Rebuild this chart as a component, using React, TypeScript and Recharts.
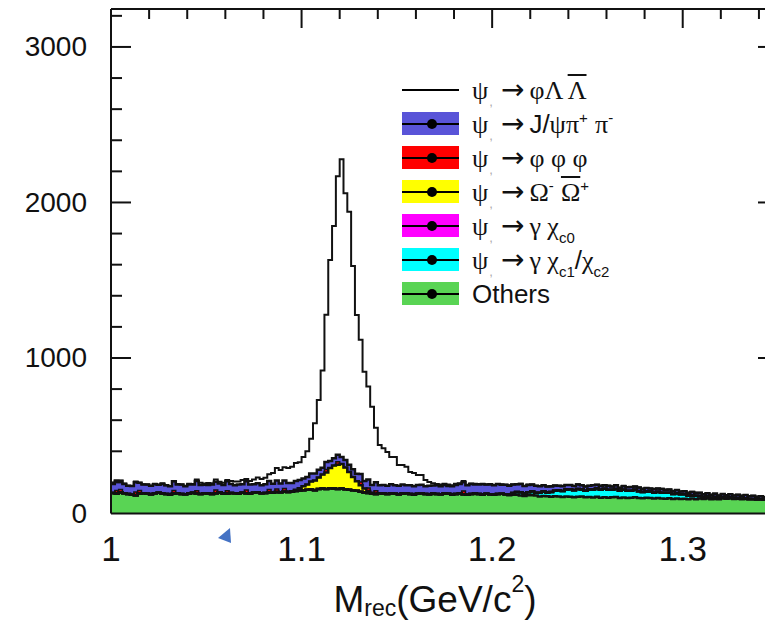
import React from 'react';
import { ComposedChart, Area, Line, XAxis, YAxis } from 'recharts';

// histogram binning (GeV/c^2)
const BIN_START = 1.0;
const BIN_WIDTH = 0.002;

// Others (green)
const others = [
  132, 128, 135, 130, 126, 120, 118, 128, 131, 127, 124, 130, 133, 129, 125, 122, 128, 131, 126, 124, 129, 133, 127, 125, 130,
  128, 126, 131, 135, 129, 127, 132, 130, 128, 134, 131, 127, 133, 136, 130, 132, 135, 133, 138, 136, 140, 138, 142, 145, 148,
  150, 152, 155, 150, 157, 160, 158, 162, 160, 158, 160, 156, 152, 150, 146, 140, 135, 132, 128, 126, 130, 128, 125, 131, 127,
  124, 128, 130, 126, 122, 127, 131, 125, 123, 128, 126, 124, 129, 127, 122, 125, 128, 124, 121, 126, 129, 125, 122, 127, 124,
  121, 125, 127, 123, 118, 120, 120, 115, 113, 117, 117, 115, 110, 112, 111, 107, 111, 109, 106, 110, 108, 105, 107, 109, 104,
  106, 103, 107, 102, 105, 101, 104, 106, 100, 103, 99, 102, 105, 100, 98, 102, 99, 96, 100, 97, 95, 98, 94, 96, 93,
  95, 92, 96, 92, 96, 94, 96, 92, 94, 91, 97, 95, 96, 94, 95, 92, 93, 91, 92, 90, 91, 88, 87, 88, 85,
];

// psi' -> gamma chi_c1 / chi_c2 (cyan)
const chiC12 = [
  0, 0, 0, 0, 0, 0, 0, 0, 0, 0, 0, 0, 0, 0, 0, 0, 0, 0, 0, 0, 0, 0, 0, 0, 0,
  0, 0, 0, 0, 0, 0, 0, 0, 0, 0, 0, 0, 0, 0, 0, 0, 0, 0, 0, 0, 0, 0, 0, 0, 0,
  0, 0, 0, 0, 0, 0, 0, 0, 0, 0, 0, 0, 0, 0, 0, 0, 0, 0, 0, 0, 0, 0, 0, 0, 0,
  0, 0, 0, 0, 0, 0, 0, 0, 0, 0, 0, 0, 0, 0, 0, 0, 0, 0, 0, 0, 0, 0, 0, 0, 0,
  0, 0, 0, 0, 5, 12, 18, 22, 16, 20, 26, 18, 24, 30, 24, 32, 36, 40, 38, 44, 48, 45, 50, 46, 43,
  48, 52, 55, 50, 54, 51, 48, 52, 46, 50, 47, 44, 48, 43, 40, 40, 42, 38, 40, 36, 38, 35, 32, 34, 30,
  28, 24, 20, 22, 16, 12, 14, 10, 12, 8, 9, 6, 7, 4, 5, 3, 4, 2, 2, 1, 1, 0, 0, 0, 0,
];

// psi' -> gamma chi_c0 (magenta)
const chiC0 = [
  0, 0, 0, 0, 0, 0, 0, 0, 0, 0, 0, 0, 0, 0, 0, 0, 0, 0, 0, 0, 0, 0, 0, 0, 0,
  0, 0, 0, 0, 0, 0, 0, 0, 0, 0, 0, 0, 0, 0, 0, 0, 0, 0, 0, 0, 0, 0, 0, 0, 0,
  0, 0, 0, 0, 0, 0, 0, 0, 0, 0, 0, 0, 0, 0, 0, 0, 0, 0, 0, 0, 0, 0, 0, 0, 0,
  0, 0, 0, 0, 0, 0, 0, 0, 0, 0, 0, 0, 0, 0, 0, 0, 0, 0, 0, 0, 0, 0, 0, 0, 0,
  0, 0, 0, 0, 0, 0, 0, 0, 0, 0, 0, 0, 0, 0, 0, 0, 0, 0, 0, 0, 0, 0, 0, 0, 0,
  0, 0, 0, 0, 0, 0, 0, 0, 0, 0, 0, 0, 0, 0, 0, 0, 0, 0, 0, 0, 0, 0, 0, 0, 0,
  0, 0, 0, 0, 0, 0, 0, 0, 0, 0, 0, 0, 0, 0, 0, 0, 0, 0, 0, 0, 0, 0, 0, 0, 0,
];

// psi' -> Omega- anti-Omega+ (yellow)
const omega = [
  0, 0, 0, 0, 0, 0, 0, 0, 0, 0, 0, 0, 0, 0, 0, 0, 0, 0, 0, 0, 0, 0, 0, 0, 0,
  0, 0, 0, 0, 0, 0, 0, 0, 0, 0, 0, 0, 0, 0, 0, 0, 0, 0, 0, 0, 0, 0, 0, 8, 15,
  25, 35, 50, 62, 75, 90, 105, 130, 148, 155, 158, 140, 115, 85, 62, 42, 25, 12, 5, 0, 0, 0, 0, 0, 0,
  0, 0, 0, 0, 0, 0, 0, 0, 0, 0, 0, 0, 0, 0, 0, 0, 0, 0, 0, 0, 0, 0, 0, 0, 0,
  0, 0, 0, 0, 0, 0, 0, 0, 0, 0, 0, 0, 0, 0, 0, 0, 0, 0, 0, 0, 0, 0, 0, 0, 0,
  0, 0, 0, 0, 0, 0, 0, 0, 0, 0, 0, 0, 0, 0, 0, 0, 0, 0, 0, 0, 0, 0, 0, 0, 0,
  0, 0, 0, 0, 0, 0, 0, 0, 0, 0, 0, 0, 0, 0, 0, 0, 0, 0, 0, 0, 0, 0, 0, 0, 0,
];

// psi' -> phi phi phi (red)
const phiPhiPhi = [
  0, 20, 20, 0, 0, 0, 20, 20, 0, 0, 0, 0, 0, 0, 0, 0, 20, 0, 0, 0, 0, 0, 20, 0, 0,
  0, 0, 20, 0, 0, 20, 0, 0, 0, 0, 20, 0, 0, 0, 0, 0, 20, 0, 20, 0, 20, 0, 0, 0, 0,
  0, 0, 0, 0, 0, 0, 20, 0, 0, 20, 0, 0, 0, 0, 0, 20, 0, 20, 0, 20, 0, 0, 0, 0, 0,
  0, 0, 0, 0, 0, 0, 0, 0, 0, 0, 0, 0, 0, 0, 0, 0, 0, 20, 0, 0, 0, 0, 0, 0, 0,
  0, 0, 0, 0, 0, 0, 0, 0, 0, 0, 0, 0, 0, 0, 0, 0, 0, 0, 0, 0, 0, 0, 0, 0, 0,
  0, 0, 0, 0, 0, 0, 0, 0, 0, 0, 0, 0, 0, 0, 0, 0, 0, 0, 0, 0, 0, 0, 0, 0, 0,
  0, 0, 0, 0, 0, 0, 0, 0, 0, 0, 0, 0, 0, 0, 0, 0, 0, 0, 0, 0, 0, 0, 0, 0, 0,
];

// psi' -> J/psi pi+ pi- (blue)
const jpsiPiPi = [
  58, 62, 55, 60, 52, 57, 63, 50, 55, 60, 54, 58, 52, 61, 56, 53, 59, 55, 60, 52, 57, 54, 62, 58, 55,
  56, 60, 53, 58, 55, 61, 57, 52, 59, 54, 57, 60, 55, 58, 52, 56, 54, 59, 55, 57, 53, 58, 54, 56, 52,
  50, 48, 52, 46, 50, 44, 48, 45, 47, 44, 45, 48, 46, 50, 47, 52, 49, 54, 50, 55, 52, 56, 53, 57, 54,
  55, 58, 52, 56, 53, 57, 54, 50, 56, 52, 55, 51, 54, 50, 53, 58, 62, 57, 60, 64, 58, 62, 66, 60, 63,
  60, 64, 58, 62, 56, 55, 50, 52, 48, 47, 44, 46, 41, 40, 38, 35, 33, 30, 32, 29, 28, 27, 29, 26, 27,
  25, 27, 23, 26, 22, 25, 21, 24, 20, 23, 22, 25, 21, 24, 20, 22, 19, 23, 21, 24, 20, 22, 19, 21, 18,
  20, 18, 22, 19, 21, 17, 20, 18, 21, 16, 19, 17, 20, 18, 21, 19, 22, 18, 20, 17, 19, 18, 16, 18, 17,
];

// psi' -> phi Lambda anti-Lambda (signal, drawn as a line on top of the stack)
const phiLL = [
  0, 2, 0, 3, 0, 0, 4, 0, 2, 0, 0, 3, 0, 5, 0, 2, 0, 4, 0, 3, 6, 2, 10, 14, 8,
  12, 9, 15, 11, 13, 8, 20, 24, 18, 28, 14, 22, 30, 37, 40, 42, 43, 68, 79, 87, 84, 96, 104, 115, 115,
  138, 165, 223, 322, 448, 626, 947, 1293, 1494, 1791, 1915, 1715, 1628, 1307, 1022, 863, 703, 599, 504, 351, 258, 236, 217, 175, 182,
  133, 126, 118, 85, 85, 63, 62, 40, 23, 15, 9, 12, 8, 10, 6, 9, 5, 8, 4, 3, 5, 2, 4, 0, 3,
  2, 0, 3, 0, 2, 0, 0, 3, 0, 2, 0, 0, 2, 0, 0, 3, 0, 0, 2, 0, 0, 0, 2, 0, 0,
  0, 2, 0, 0, 0, 3, 0, 0, 0, 2, 0, 0, 0, 0, 2, 0, 0, 0, 0, 2, 0, 0, 0, 0, 0,
  0, 0, 2, 0, 0, 0, 0, 0, 2, 0, 0, 0, 0, 0, 0, 0, 0, 0, 0, 0, 0, 0, 0, 0, 0,
];

const xMajor = [1.0, 1.1, 1.2, 1.3];
const xLabels = ['1', '1.1', '1.2', '1.3'];
const xMinor = [1.02, 1.04, 1.06, 1.08, 1.12, 1.14, 1.16, 1.18, 1.22, 1.24, 1.26, 1.28, 1.32, 1.34];
const yMajor = [0, 1000, 2000, 3000];
const yLabels = ['0', '1000', '2000', '3000'];
const yMinor = [200, 400, 600, 800, 1200, 1400, 1600, 1800, 2200, 2400, 2600, 2800, 3200];

const SERIES = ['others', 'chiC12', 'chiC0', 'omega', 'phiPhiPhi', 'jpsiPiPi'];
const COLORS: Record<string, string> = {
  others: '#59d454',
  chiC12: '#00ffff',
  chiC0: '#ff00ff',
  omega: '#ffff00',
  phiPhiPhi: '#ff0000',
  jpsiPiPi: '#5954d8',
};

const SANS = '"Liberation Sans", Arial, Helvetica, sans-serif';
const SERIF = '"Liberation Serif", "DejaVu Serif", serif';
const INK = '#111';

const CHART_W = 780;
const CHART_H = 612;
const MARGIN = { top: 0, right: 10, bottom: 0, left: 0 };
const Y_AXIS_W = 103;
const PLOT_W = CHART_W - MARGIN.left - MARGIN.right - Y_AXIS_W;

// one row per bin edge; the last edge repeats the last bin so the step closes.
// cum_* are the running tops of the stack, used to outline every component.
const rows = [];
for (let i = 0; i <= others.length; i++) {
  const k = Math.min(i, others.length - 1);
  const vals = [others[k], chiC12[k], chiC0[k], omega[k], phiPhiPhi[k], jpsiPiPi[k]];
  // eslint-disable-next-line @typescript-eslint/no-explicit-any
  const row: any = { x: +(BIN_START + i * BIN_WIDTH).toFixed(3) };
  let acc = 0;
  SERIES.forEach((key, j) => {
    row[key] = vals[j];
    acc += vals[j];
    row['cum_' + key] = acc;
  });
  row.total = acc + phiLL[k];
  rows.push(row);
}

const xTicks = [...xMajor, ...xMinor].sort((a, b) => a - b);
const yTicks = [...yMajor, ...yMinor].sort((a, b) => a - b);
const majorIndex = (list: number[], v: number) => list.findIndex((m) => Math.abs(m - v) < 1e-6);

// eslint-disable-next-line @typescript-eslint/no-explicit-any
const BottomTick = ({ x, y, payload }: any) => {
  const idx = majorIndex(xMajor, payload.value);
  if (idx < 0) return <g />;
  return (
    <text x={x} y={y + 35} textAnchor="middle" dominantBaseline="central" fontSize={35} fontFamily={SANS} fill={INK}>
      {xLabels[idx]}
    </text>
  );
};

// eslint-disable-next-line @typescript-eslint/no-explicit-any
const TopTick = ({ x, y, payload }: any) => {
  const len = majorIndex(xMajor, payload.value) >= 0 ? 19 : 10;
  return <line x1={x} x2={x} y1={y} y2={y + len} stroke={INK} strokeWidth={2} />;
};

// left ticks + labels, and the mirrored ticks on the right frame edge
// eslint-disable-next-line @typescript-eslint/no-explicit-any
const LeftTick = ({ x, y, payload }: any) => {
  const idx = majorIndex(yMajor, payload.value);
  const len = idx >= 0 ? 20 : 11;
  const xr = Number(x) + PLOT_W;
  return (
    <g>
      {payload.value > 0 && <line x1={x} x2={Number(x) + len} y1={y} y2={y} stroke={INK} strokeWidth={2} />}
      {payload.value > 0 && <line x1={xr} x2={xr - len} y1={y} y2={y} stroke={INK} strokeWidth={2} />}
      {idx >= 0 && (
        <text x={Number(x) - 24} y={y} textAnchor="end" dominantBaseline="central" fontSize={28} fontFamily={SANS} fill={INK}>
          {yLabels[idx]}
        </text>
      )}
    </g>
  );
};

const G = ({ children }: { children: React.ReactNode }) => (
  <span style={{ fontFamily: SERIF }}>{children}</span>
);
const Sup = ({ children }: { children: React.ReactNode }) => (
  <span style={{ fontSize: 15, position: 'relative', top: -10 }}>{children}</span>
);
const Sub = ({ children }: { children: React.ReactNode }) => (
  <span style={{ fontSize: 15, position: 'relative', top: 8 }}>{children}</span>
);
const Bar = ({ children }: { children: React.ReactNode }) => (
  <span style={{ textDecoration: 'overline', textDecorationThickness: 2 }}>{children}</span>
);
const Psi = () => (
  <>
    <G>ψ</G>
    <span style={{ fontSize: 13, color: '#aaa', position: 'relative', top: 7, marginLeft: 1 }}>,</span>
    <span style={{ fontFamily: '"DejaVu Sans", sans-serif', fontSize: 28, margin: '0 5px 0 8px' }}>→</span>
  </>
);

const legendRows = [
  { color: null, label: <><Psi /><G>φΛ <Bar>Λ</Bar></G></> },
  { color: COLORS.jpsiPiPi, label: <><Psi />J/<G>ψπ</G><Sup>+</Sup> <G>π</G><Sup>-</Sup></> },
  { color: COLORS.phiPhiPhi, label: <><Psi /><G>φ φ φ</G></> },
  { color: COLORS.omega, label: <><Psi /><G>Ω</G><Sup>-</Sup> <G><Bar>Ω</Bar></G><Sup>+</Sup></> },
  { color: COLORS.chiC0, label: <><Psi /><G>γ χ</G><Sub>c0</Sub></> },
  { color: COLORS.chiC12, label: <><Psi /><G>γ χ</G><Sub>c1</Sub>/<G>χ</G><Sub>c2</Sub></> },
  { color: COLORS.others, label: <>Others</> },
];

const LegendBox = () => (
  <div style={{ position: 'absolute', left: 394, top: 70, fontFamily: SANS, color: INK }}>
    {legendRows.map((row, i) => (
      <div key={i} style={{ position: 'absolute', top: i * 34, left: 0, width: 300, height: 24 }}>
        <div style={{ position: 'absolute', left: 0, top: 0, width: 57, height: 23, background: row.color || 'transparent' }}>
          <div style={{ position: 'absolute', left: 0, top: 10.5, width: 57, height: 2, background: '#000' }} />
          {row.color && (
            <div style={{ position: 'absolute', left: 25, top: 6.5, width: 10, height: 10, borderRadius: 5, background: '#000' }} />
          )}
        </div>
        <div style={{ position: 'absolute', left: 70, top: -2, fontSize: 26, lineHeight: '28px', whiteSpace: 'pre' }}>
          {row.label}
        </div>
      </div>
    ))}
  </div>
);

export default function App() {
  return (
    <div style={{ position: 'relative', width: 765, height: 613, overflow: 'hidden', background: '#fff' }}>
      <ComposedChart width={CHART_W} height={CHART_H} data={rows} margin={MARGIN}>
        <XAxis
          dataKey="x"
          type="number"
          domain={[1.0, 1.35]}
          allowDataOverflow
          ticks={xTicks}
          interval={0}
          height={106.5}
          tickSize={0}
          tickMargin={0}
          tickLine={false}
          axisLine={{ stroke: INK, strokeWidth: 2 }}
          tick={BottomTick}
          label={{
            position: 'insideBottom',
            content: () => (
              <text x={427} y={591} textAnchor="middle" dominantBaseline="central" fontSize={37} fontFamily={SANS} fill={INK}>
                M
                <tspan fontSize={23} dy={9}>rec</tspan>
                <tspan dy={-9}>(GeV/c</tspan>
                <tspan fontSize={23} dy={-15}>2</tspan>
                <tspan dy={15}>)</tspan>
              </text>
            ),
          }}
        />
        <XAxis
          xAxisId="top"
          orientation="top"
          dataKey="x"
          type="number"
          domain={[1.0, 1.35]}
          allowDataOverflow
          ticks={xTicks}
          interval={0}
          height={1}
          tickSize={0}
          tickMargin={0}
          tickLine={false}
          axisLine={{ stroke: INK, strokeWidth: 2 }}
          tick={TopTick}
        />
        <YAxis
          type="number"
          domain={[0, 3244]}
          allowDataOverflow
          ticks={yTicks}
          interval={0}
          width={Y_AXIS_W}
          tickSize={0}
          tickMargin={0}
          tickLine={false}
          axisLine={{ stroke: INK, strokeWidth: 2 }}
          tick={LeftTick}
        />
        {SERIES.map((key) => (
          <Area
            key={key}
            type="stepAfter"
            dataKey={key}
            stackId="s"
            fill={COLORS[key]}
            fillOpacity={1}
            stroke="none"
            isAnimationActive={false}
            dot={false}
            activeDot={false}
          />
        ))}
        {SERIES.map((key) => (
          <Line
            key={'cum_' + key}
            type="stepAfter"
            dataKey={'cum_' + key}
            stroke={INK}
            strokeWidth={key === 'phiPhiPhi' ? 1.5 : 2.5}
            dot={false}
            activeDot={false}
            isAnimationActive={false}
          />
        ))}
        <Line
          xAxisId="top"
          type="stepAfter"
          dataKey="total"
          stroke={INK}
          strokeWidth={2}
          dot={false}
          activeDot={false}
          isAnimationActive={false}
        />
      </ComposedChart>
      <LegendBox />
      <svg style={{ position: 'absolute', left: 208, top: 518 }} width={18} height={18}>
        <polygon points="2,12 14,2 15,17" fill="#4472c4" />
      </svg>
    </div>
  );
}
